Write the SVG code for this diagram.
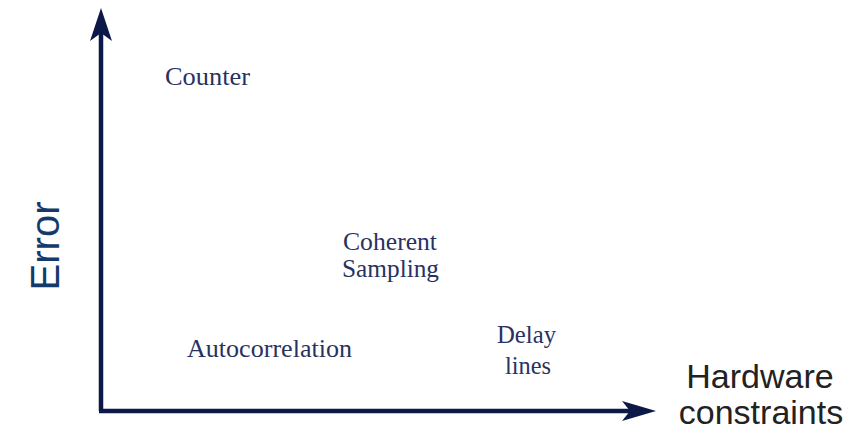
<svg xmlns="http://www.w3.org/2000/svg" width="863" height="433" viewBox="0 0 863 433">
  <style>
    .axis { stroke: #0c1847; stroke-width: 4.5; fill: none; }
    .head { fill: #0c1847; }
    .lbl { font-family: "Liberation Serif", "DejaVu Serif", serif; font-size: 25px; fill: #283262; }
    .ax { font-family: "Liberation Sans", Arial, sans-serif; }
  </style>
  <rect width="863" height="433" fill="#ffffff"/>

  <g id="connectors">
    <!-- vertical axis (Error) -->
    <line class="axis" x1="101" y1="411" x2="101" y2="30"/>
    <path class="head" d="M101,8 L112,41 L101,33 L90,41 Z"/>
    <!-- horizontal axis (Hardware constraints) -->
    <line class="axis" x1="99" y1="411" x2="635" y2="411"/>
    <path class="head" d="M656,411 L622,421 L630,411 L622,401 Z"/>
  </g>

  <g id="axis-error">
    <text class="ax" transform="translate(59,246) rotate(-90)" text-anchor="middle" font-size="40" fill="#143a6b">Error</text>
  </g>
  <g id="axis-hardware">
    <text class="ax" x="760" y="388" text-anchor="middle" font-size="34" fill="#222222">Hardware</text>
    <text class="ax" x="761" y="424" text-anchor="middle" font-size="34" fill="#222222">constraints</text>
  </g>

  <g id="counter">
    <text class="lbl" x="165" y="85" textLength="85" lengthAdjust="spacingAndGlyphs">Counter</text>
  </g>
  <g id="coherent-sampling">
    <text class="lbl" x="343" y="250" textLength="94" lengthAdjust="spacingAndGlyphs">Coherent</text>
    <text class="lbl" x="342" y="277" textLength="97" lengthAdjust="spacingAndGlyphs">Sampling</text>
  </g>
  <g id="autocorrelation">
    <text class="lbl" x="187" y="357" textLength="165" lengthAdjust="spacingAndGlyphs">Autocorrelation</text>
  </g>
  <g id="delay-lines">
    <text class="lbl" x="497" y="343" textLength="59" lengthAdjust="spacingAndGlyphs">Delay</text>
    <text class="lbl" x="505" y="374" textLength="46" lengthAdjust="spacingAndGlyphs">lines</text>
  </g>
</svg>
